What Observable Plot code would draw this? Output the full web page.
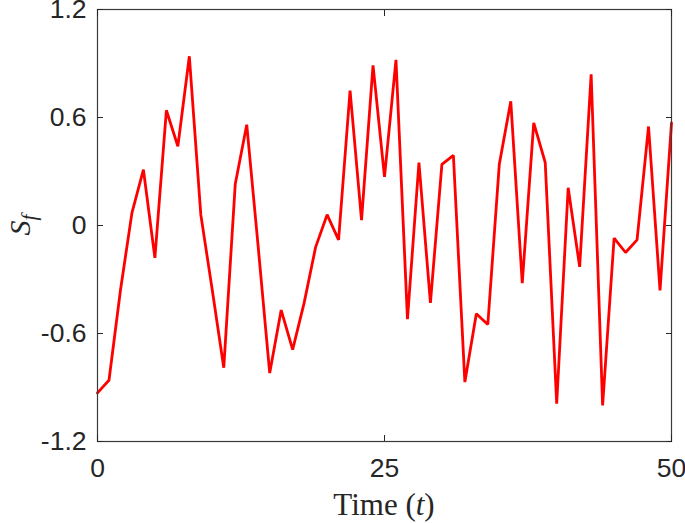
<!DOCTYPE html>
<html>
<head>
<meta charset="utf-8">
<script src="https://cdn.jsdelivr.net/npm/d3@7"></script>
<script src="https://cdn.jsdelivr.net/npm/@observablehq/plot@0.6"></script>
<style>
  html, body { margin: 0; padding: 0; background: #fff; }
  #chart { width: 685px; height: 523px; }
</style>
</head>
<body>
<div id="chart"></div>
<script>
const time = [0,1,2,3,4,5,6,7,8,9,10,11,12,13,14,15,16,17,18,19,20,21,22,23,24,25,26,27,28,29,30,31,32,33,34,35,36,37,38,39,40,41,42,43,44,45,46,47,48,49,50];
const sf = [-0.93,-0.86,-0.36,0.07,0.31,-0.18,0.64,0.44,0.94,0.06,-0.36,-0.79,0.23,0.56,-0.12,-0.82,-0.47,-0.69,-0.43,-0.12,0.06,-0.08,0.75,0.03,0.89,0.27,0.92,-0.52,0.35,-0.43,0.34,0.39,-0.87,-0.49,-0.55,0.34,0.69,-0.32,0.57,0.35,-0.99,0.21,-0.23,0.84,-1.0,-0.07,-0.15,-0.08,0.55,-0.36,0.57];
const xTicks = [0, 25, 50];
const yTicks = [-1.2, -0.6, 0, 0.6, 1.2];
const yTickLabels = ["-1.2", "-0.6", "0", "0.6", "1.2"];

const data = time.map((t, i) => ({t, s: sf[i]}));
const axisColor = "#262626";
const tickFont = "'Liberation Sans', Arial, Helvetica, sans-serif";

const plot = Plot.plot({
  width: 685,
  height: 523,
  marginLeft: 97,
  marginRight: 14,
  marginTop: 9,
  marginBottom: 82,
  style: {background: "#fff", color: axisColor},
  x: {domain: [0, 50]},
  y: {domain: [-1.2, 1.2]},
  marks: [
    Plot.line(data, {x: "t", y: "s", stroke: "#ff0000", strokeWidth: 2.8, strokeLinejoin: "miter"}),
    Plot.frame({stroke: "#3a3a3a", strokeWidth: 1.2}),
    Plot.axisY({anchor: "left", ticks: yTicks, tickSize: 0, tickPadding: 11,
      tickFormat: (d) => yTickLabels[yTicks.indexOf(d)], fontSize: 26.5, fontFamily: tickFont, label: null, fill: axisColor}),
    Plot.axisY({anchor: "left", ticks: yTicks, tickSize: -6, text: null, label: null, stroke: axisColor}),
    Plot.axisY({anchor: "right", ticks: yTicks, tickSize: -6, text: null, label: null, stroke: axisColor}),
    Plot.axisX({anchor: "bottom", ticks: xTicks, tickSize: 0, tickPadding: 17,
      tickFormat: (d) => String(d), fontSize: 26.5, fontFamily: tickFont, label: null, fill: axisColor}),
    Plot.axisX({anchor: "bottom", ticks: xTicks, tickSize: -6, text: null, label: null, stroke: axisColor}),
    Plot.axisX({anchor: "top", ticks: xTicks, tickSize: -6, text: null, label: null, stroke: axisColor})
  ]
});

document.getElementById("chart").appendChild(plot);

const svg = d3.select(plot);
const serif = "'Liberation Serif', 'DejaVu Serif', 'Times New Roman', serif";
const xl = svg.append("text")
  .attr("x", 384).attr("y", 515)
  .attr("text-anchor", "middle")
  .attr("font-family", serif).attr("font-size", 31).attr("fill", axisColor);
xl.append("tspan").text("Time (");
xl.append("tspan").attr("font-style", "italic").text("t");
xl.append("tspan").text(")");

const yl = svg.append("text")
  .attr("transform", "translate(30,225) rotate(-90)")
  .attr("text-anchor", "middle")
  .attr("font-family", serif).attr("font-size", 30).attr("fill", axisColor);
yl.append("tspan").attr("font-style", "italic").text("S");
yl.append("tspan").attr("font-style", "italic").attr("font-size", 21).attr("dy", 6).text("f");
</script>
</body>
</html>
